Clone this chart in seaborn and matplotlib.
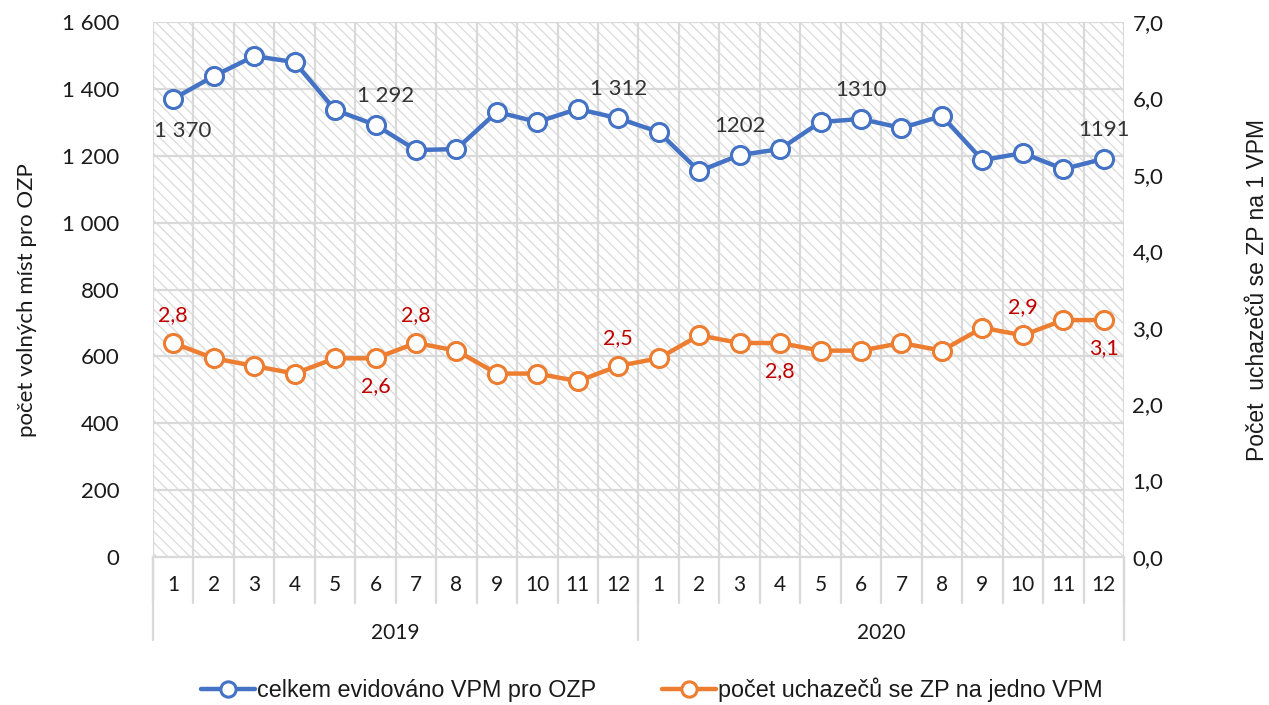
import numpy as np
import pandas as pd
import seaborn as sns
import matplotlib.pyplot as plt
import matplotlib.transforms as mtransforms
from matplotlib.patches import Rectangle
from matplotlib.lines import Line2D

# %%
# Data
months = [1, 2, 3, 4, 5, 6, 7, 8, 9, 10, 11, 12] * 2
years = ['2019', '2020']
vpm_total = [1370, 1438, 1498, 1480, 1337, 1292, 1217, 1220, 1331, 1301, 1340, 1312,
             1271, 1154, 1202, 1220, 1301, 1310, 1283, 1319, 1187, 1208, 1160, 1191]
uchazeci_na_vpm = [2.8, 2.6, 2.5, 2.4, 2.6, 2.6, 2.8, 2.7, 2.4, 2.4, 2.3, 2.5,
                   2.6, 2.9, 2.8, 2.8, 2.7, 2.7, 2.8, 2.7, 3.0, 2.9, 3.1, 3.1]

# labels shown in chart: index -> (text, above/below)
vpm_labels = {0: ('1 370', 'below'), 5: ('1 292', 'above'), 11: ('1 312', 'above'),
              14: ('1202', 'above'), 17: ('1310', 'above'), 23: ('1191', 'above')}
ratio_labels = {0: ('2,8', 'above'), 5: ('2,6', 'below'), 6: ('2,8', 'above'),
                11: ('2,5', 'above'), 15: ('2,8', 'below'), 21: ('2,9', 'above'),
                23: ('3,1', 'below')}

df = pd.DataFrame({'pos': np.arange(len(months)), 'vpm': vpm_total, 'ratio': uchazeci_na_vpm})

BLUE = '#4472C4'
ORANGE = '#ED7D31'
GRID = '#d9d9d9'
TXT = '#1a1a1a'

# %%
sns.set_style('white')
plt.rcParams['font.family'] = ['Lato', 'DejaVu Sans']
plt.rcParams['hatch.linewidth'] = 0.9

fig = plt.figure(figsize=(12.69, 7.05), dpi=100)
ax = fig.add_axes([153 / 1269, 1 - 557 / 705, (1124 - 153) / 1269, (557 - 22) / 705])
ax2 = ax.twinx()

n = len(months)
ax.set_xlim(-0.5, n - 0.5)
ax.set_ylim(0, 1600)
ax2.set_ylim(0, 7)

# hatched background
ax.add_patch(Rectangle((0, 0), 1, 1, transform=ax.transAxes, facecolor='white',
                       edgecolor='#dadada', hatch='\\\\\\', linewidth=0, zorder=0))

# grid
for yv in np.arange(200, 1601, 200):
    ax.axhline(yv, color=GRID, lw=1.6, zorder=1)
for xv in np.arange(-0.5, n, 1):
    ax.axvline(xv, color=GRID, lw=1.6, zorder=1)

sns.lineplot(data=df, x='pos', y='vpm', ax=ax, color=BLUE, lw=3.2, marker='o',
             markersize=13, markerfacecolor='white', markeredgecolor=BLUE,
             markeredgewidth=2.2, zorder=5, legend=False)
sns.lineplot(data=df, x='pos', y='ratio', ax=ax2, color=ORANGE, lw=3.2, marker='o',
             markersize=13, markerfacecolor='white', markeredgecolor=ORANGE,
             markeredgewidth=2.2, zorder=5, legend=False)

for i, (t, where) in vpm_labels.items():
    off = 21 if where == 'above' else -23
    dx = 7 if i in (0, 5) else 0
    ax.annotate(t, (i, vpm_total[i]), xytext=(dx, off), textcoords='offset points',
                ha='center', va='center', fontsize=16, color='#333333', zorder=6)
for i, (t, where) in ratio_labels.items():
    off = 20 if where == 'above' else -20
    ax2.annotate(t, (i, uchazeci_na_vpm[i]), xytext=(0, off), textcoords='offset points',
                 ha='center', va='center', fontsize=15.5, color='#C00000', zorder=6)

# axes styling
for a in (ax, ax2):
    for s in a.spines.values():
        s.set_visible(False)
    a.set_xlabel('')
ax.spines['bottom'].set_visible(True)
ax.spines['bottom'].set_color(GRID)
ax.spines['bottom'].set_linewidth(1.6)

ax.set_yticks(np.arange(0, 1601, 200))
ax.set_yticklabels([f'{v:,}'.replace(',', ' ') for v in range(0, 1601, 200)])
ax2.set_yticks(np.arange(0, 7.01, 1))
ax2.set_yticklabels([f'{v:.1f}'.replace('.', ',') for v in range(0, 8)])
ax.tick_params(axis='y', length=0, pad=24, labelsize=16, labelcolor=TXT)
ax2.tick_params(axis='y', length=0, pad=6, labelsize=16, labelcolor=TXT)
ax.set_xticks([])
ax2.set_xticks([])

ax.set_ylabel('')
ax2.set_ylabel('')
fig.text(27 / 1269, 1 - 300 / 705, 'počet volných míst pro OZP', rotation=90,
         ha='center', va='center', fontsize=16, color=TXT)
fig.text(1257 / 1269, 1 - 290 / 705, 'Počet  uchazečů se ZP na 1 VPM', rotation=90,
         ha='center', va='center', fontsize=16.5, color=TXT, family='Liberation Sans')

# multi-level category axis
trans = mtransforms.blended_transform_factory(ax.transData, ax.transAxes)
h = 557 - 22
row1 = -(603 - 557) / h
row2 = -(640 - 557) / h
for i, m in enumerate(months):
    ax.text(i, -(585 - 557) / h, str(m), transform=trans, ha='center', va='center',
            fontsize=15, color=TXT)
for xv in np.arange(-0.5, n, 1):
    ax.plot([xv, xv], [0, row1], transform=trans, color=GRID, lw=1.6, clip_on=False)
for j, y in enumerate(years):
    ax.text(j * 12 + 5.5, -(633 - 557) / h, y, transform=trans, ha='center', va='center',
            fontsize=15, color=TXT)
for xv in (-0.5, 11.5, 23.5):
    ax.plot([xv, xv], [0, row2], transform=trans, color=GRID, lw=1.6, clip_on=False)

# legend
handles = [Line2D([], [], color=c, lw=3.2, marker='o', markersize=11, markerfacecolor='white',
                  markeredgecolor=c, markeredgewidth=2.2) for c in (BLUE, ORANGE)]
fig.legend(handles, ['celkem evidováno VPM pro OZP', 'počet uchazečů se ZP na jedno VPM'],
           loc='center', bbox_to_anchor=(652 / 1269, 1 - 690 / 705), ncol=2, frameon=False,
           prop={'family': 'Liberation Sans', 'size': 16.8}, handlelength=2.3, handletextpad=0.12,
           columnspacing=2.8, labelcolor=TXT)

fig.savefig('out.png', dpi=100)
